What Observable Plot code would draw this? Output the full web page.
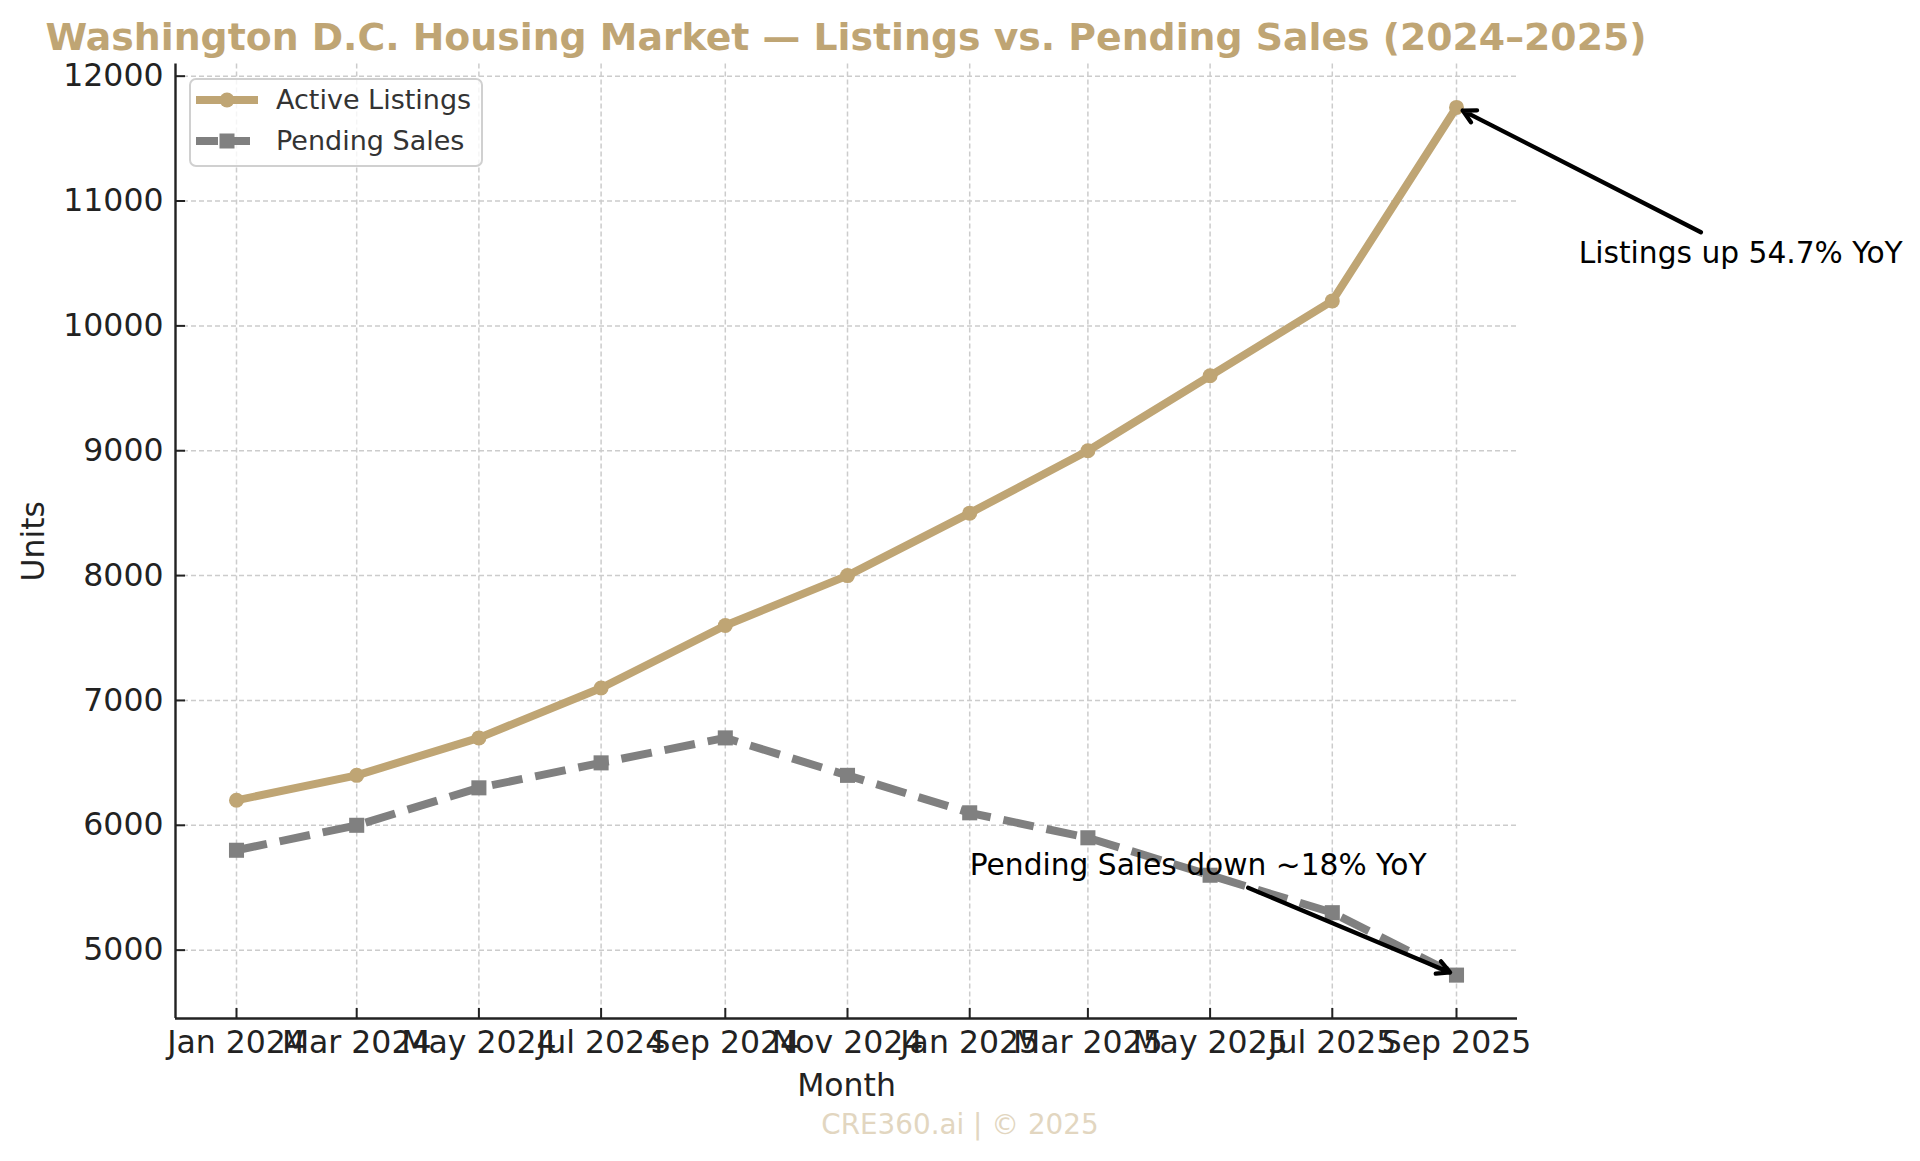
<!DOCTYPE html>
<html>
<head>
<meta charset="utf-8">
<script src="https://cdn.jsdelivr.net/npm/d3@7"></script>
<script src="https://cdn.jsdelivr.net/npm/@observablehq/plot@0.6"></script>
<style>
  body { margin: 0; background: #fff; }
  #fig { position: relative; width: 1920px; height: 1161px; overflow: hidden; font-family: "DejaVu Sans", sans-serif; background: #fff; }
  #title { position: absolute; left: 846px; top: 0; transform: translateX(-50%); white-space: nowrap; font-weight: bold; font-size: 37.8px; color: #bfa574; line-height: 74px; height: 60px; }
  #chart { position: absolute; left: 0; top: 60px; }
  #caption { position: absolute; left: 960px; top: 1100px; transform: translateX(-50%); font-size: 27.8px; color: #e2d6c0; line-height: 50px; white-space: nowrap; }
  #legend { position: absolute; left: 189px; top: 78px; width: 294px; height: 89px; box-sizing: border-box; border: 2px solid #d0d0d0; border-radius: 7px; background: rgba(255,255,255,0.8); }
  .lg-handle { position: absolute; left: 5px; }
  .lg-label { position: absolute; left: 85px; font-size: 27px; line-height: 34px; color: #333; white-space: nowrap; }
</style>
</head>
<body>
<div id="fig">
  <div id="title"></div>
  <div id="chart"></div>
  <div id="legend"></div>
  <div id="caption"></div>
</div>
<script>
// ---------- data ----------
const titleText = "Washington D.C. Housing Market \u2014 Listings vs. Pending Sales (2024\u20132025)";
const captionText = "CRE360.ai | \u00a9 2025";
const xLabel = "Month";
const yLabel = "Units";

const months = ["Jan 2024", "Mar 2024", "May 2024", "Jul 2024", "Sep 2024", "Nov 2024",
                "Jan 2025", "Mar 2025", "May 2025", "Jul 2025", "Sep 2025"];
const activeListings = [6200, 6400, 6700, 7100, 7600, 8000, 8500, 9000, 9600, 10200, 11750];
const pendingSales   = [5800, 6000, 6300, 6500, 6700, 6400, 6100, 5900, 5600, 5300, 4800];
const yTicks = [5000, 6000, 7000, 8000, 9000, 10000, 11000, 12000];

const seriesNames  = ["Active Listings", "Pending Sales"];
const seriesColors = ["#bfa574", "#808080"];

// annotations (data space)
const annTexts       = ["Listings up 54.7% YoY", "Pending Sales down ~18% YoY"];
const annTextDates   = ["2025-11-01", "2025-01-01"];
const annTextValues  = [10500, 5600];
const annFromDates   = ["2026-01-01", "2025-05-20"];
const annFromValues  = [10750, 5500];
const annToMonths    = ["Sep 2025", "Sep 2025"];
const annToValues    = [11750, 4800];

// ---------- build ----------
const parseMonth = d3.utcParse("%b %Y");
const parseISO = d3.utcParse("%Y-%m-%d");
const dates = months.map(parseMonth);
const rows = months.map((m, i) => ({date: dates[i], listings: activeListings[i], pending: pendingSales[i]}));
const annRows = annTexts.map((t, i) => ({
  text: t,
  tx: parseISO(annTextDates[i]), ty: annTextValues[i],
  x1: parseISO(annFromDates[i]), y1: annFromValues[i],
  x2: parseMonth(annToMonths[i]), y2: annToValues[i]
}));

const t0 = +dates[0], t1 = +dates[dates.length - 1];
const xpad = (t1 - t0) * 0.05;
const xDomain = [new Date(t0 - xpad), new Date(t1 + xpad)];
const allV = activeListings.concat(pendingSales);
const vmin = d3.min(allV), vmax = d3.max(allV);
const ypad = (vmax - vmin) * 0.05;
const yDomain = [vmin - ypad, vmax + ypad];

const W = 1920, H = 1040, mL = 175, mR = 403, mT = 3.5, mB = 82;
const fw = W - mL - mR, fh = H - mT - mB;
const gridStyle = {stroke: "#cccccc", strokeWidth: 1.5, strokeDasharray: "5,3", strokeOpacity: 1};
const tickFont = 31.5;

const chart = Plot.plot({
  width: W, height: H,
  marginLeft: mL, marginRight: mR, marginTop: mT, marginBottom: mB,
  style: {fontFamily: "DejaVu Sans", fontSize: tickFont + "px", color: "#222", background: "transparent", overflow: "visible"},
  x: {type: "utc", domain: xDomain},
  y: {domain: yDomain},
  marks: [
    Plot.gridX(dates, {x: d => d, ...gridStyle}),
    Plot.gridY(yTicks, {y: d => d, ...gridStyle}),
    Plot.axisX(dates, {x: d => d, tickSize: 0, tickPadding: 12.5, tickFormat: d3.utcFormat("%b %Y"), label: null, fill: "#222"}),
    Plot.axisY(yTicks, {y: d => d, tickSize: 0, tickPadding: 12, tickFormat: d => String(d), label: null, fill: "#222"}),
    Plot.tickX(dates, {x: d => d, stroke: "#222", strokeWidth: 2, insetTop: fh - 10}),
    Plot.tickY(yTicks, {y: d => d, stroke: "#222", strokeWidth: 2, insetRight: fw - 10}),
    Plot.ruleX([xDomain[0]], {stroke: "#222", strokeWidth: 2.4}),
    Plot.ruleY([yDomain[0]], {stroke: "#222", strokeWidth: 2.4}),
    Plot.text([xLabel], {frameAnchor: "bottom", dy: 67, lineAnchor: "middle", textAnchor: "middle", fontSize: tickFont, fill: "#222"}),
    Plot.text([yLabel], {frameAnchor: "left", dx: -141.5, rotate: -90, lineAnchor: "middle", textAnchor: "middle", fontSize: tickFont, fill: "#222"}),
    // Active listings
    Plot.line(rows, {x: "date", y: "listings", stroke: seriesColors[0], strokeWidth: 8, strokeLinejoin: "round", strokeLinecap: "square"}),
    Plot.dot(rows, {x: "date", y: "listings", r: 7.5, fill: seriesColors[0], stroke: null}),
    // Pending sales
    Plot.line(rows, {x: "date", y: "pending", stroke: seriesColors[1], strokeWidth: 8, strokeDasharray: "31,13", strokeLinejoin: "round", strokeLinecap: "butt"}),
    Plot.dot(rows, {x: "date", y: "pending", r: 8.5, symbol: "square", fill: seriesColors[1], stroke: null}),
    // annotations
    Plot.arrow(annRows, {x1: "x1", y1: "y1", x2: "x2", y2: "y2", stroke: "#000", strokeWidth: 4.3, headLength: 5, headAngle: 56, insetEnd: 7}),
    Plot.text(annRows, {x: "tx", y: "ty", text: "text", textAnchor: "start", lineAnchor: "bottom", fontSize: 29.7, fill: "#000"})
  ]
});
document.getElementById("chart").appendChild(chart);
document.getElementById("title").textContent = titleText;
document.getElementById("caption").textContent = captionText;

// legend
const legend = document.getElementById("legend");
const rowCenters = [20, 61];
const ns = "http://www.w3.org/2000/svg";
seriesNames.forEach((name, i) => {
  const svg = document.createElementNS(ns, "svg");
  svg.setAttribute("width", 62); svg.setAttribute("height", 20);
  svg.setAttribute("class", "lg-handle");
  svg.style.top = (rowCenters[i] - 10) + "px";
  svg.style.overflow = "visible";
  const ln = document.createElementNS(ns, "line");
  ln.setAttribute("x1", 0); ln.setAttribute("x2", 62); ln.setAttribute("y1", 10); ln.setAttribute("y2", 10);
  ln.setAttribute("stroke", seriesColors[i]); ln.setAttribute("stroke-width", 8);
  if (i === 1) ln.setAttribute("stroke-dasharray", "22,10");
  svg.appendChild(ln);
  if (i === 0) {
    const c = document.createElementNS(ns, "circle");
    c.setAttribute("cx", 31); c.setAttribute("cy", 10); c.setAttribute("r", 7.5); c.setAttribute("fill", seriesColors[i]);
    svg.appendChild(c);
  } else {
    const r = document.createElementNS(ns, "rect");
    r.setAttribute("x", 23.5); r.setAttribute("y", 2.5); r.setAttribute("width", 15); r.setAttribute("height", 15); r.setAttribute("fill", seriesColors[i]);
    svg.appendChild(r);
  }
  legend.appendChild(svg);
  const lab = document.createElement("div");
  lab.className = "lg-label";
  lab.style.top = (rowCenters[i] - 17) + "px";
  lab.textContent = name;
  legend.appendChild(lab);
});
</script>
</body>
</html>
